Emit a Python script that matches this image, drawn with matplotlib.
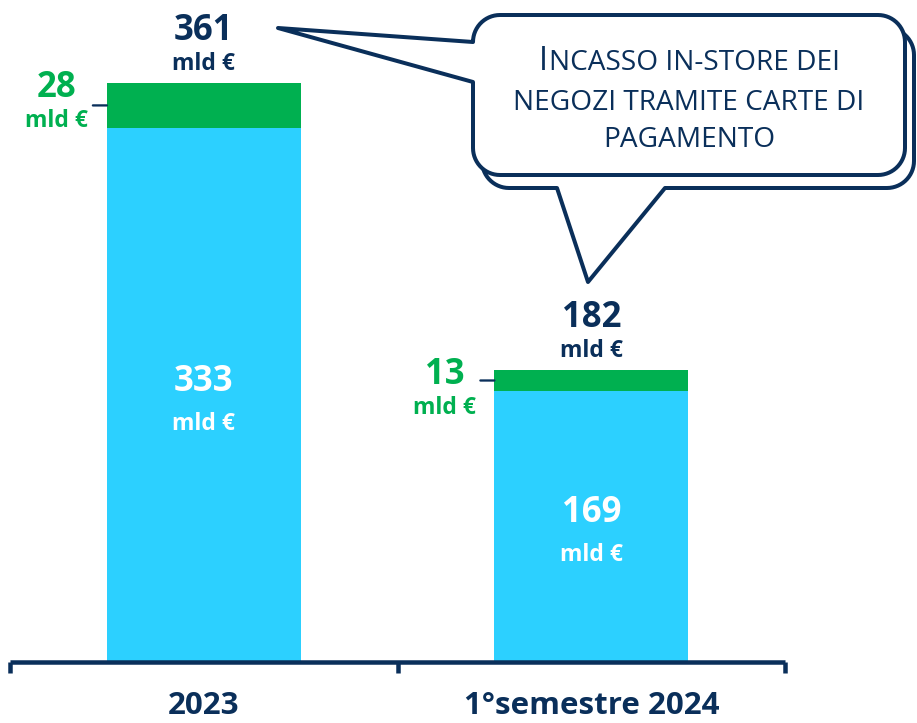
import matplotlib
matplotlib.use("Agg")
import matplotlib.pyplot as plt
from matplotlib.path import Path
from matplotlib.patches import PathPatch
from matplotlib.transforms import Affine2D
import numpy as np

# ---------------- data ----------------
categories = ["2023", "1°semestre 2024"]
card_in_store = [333, 169]      # light-blue segment (mld €)
other_part = [28, 13]           # green segment (mld €)
totals = [361, 182]             # total (mld €)
unit_label = "mld €"
callout_first_letter = "I"
callout_lines = ["NCASSO IN-STORE DEI", "NEGOZI TRAMITE CARTE DI", "PAGAMENTO"]

# ---------------- style ----------------
NAVY = "#0A2F5A"
GREEN = "#00B050"
BLUE = "#2CD0FF"

W, H, DPI = 917, 723, 100
PX = 72.0 / DPI  # points per pixel
plt.rcParams['font.family'] = ['Open Sans', 'DejaVu Sans']

fig = plt.figure(figsize=(W / DPI, H / DPI), dpi=DPI)
# pixel coordinates with origin at top-left
px_trans = Affine2D().scale(1 / DPI, -1 / DPI).translate(0, H / DPI) + fig.dpi_scale_trans

ax = fig.add_axes([10 / W, (H - 662) / H, 775 / W, 662 / H])
ax.patch.set_visible(False)
x = np.arange(len(categories))
bw = 0.5
ax.bar(x, card_in_store, width=bw, color=BLUE, zorder=1)
ax.bar(x, other_part, bottom=card_in_store, width=bw, color=GREEN, zorder=1)
ax.set_xlim(-0.5, len(categories) - 0.5)
ax.set_ylim(0, 662 / 1.604)

for s in ['top', 'right', 'left']:
    ax.spines[s].set_visible(False)
ax.spines['bottom'].set_color(NAVY)
ax.spines['bottom'].set_linewidth(4.5 * PX)
ax.spines['bottom'].set_capstyle('butt')
ax.set_yticks([])
ax.set_xticks(np.arange(len(categories) + 1) - 0.5)
ax.set_xticklabels([])
ax.tick_params(axis='x', which='major', length=11 * PX, width=4.5 * PX,
               color=NAVY, direction='out')
ax.set_xticks(x, minor=True)
ax.set_xticklabels(categories, minor=True, fontsize=22.5, fontweight='bold', color=NAVY)
ax.tick_params(axis='x', which='minor', length=0, pad=29 * PX)

NUM_FS = 25
UNIT_FS = 16.5

for xi, b, o, t in zip(x, card_in_store, other_part, totals):
    # total above the bar
    ax.annotate(str(t), (xi, t), xytext=(0, 43 * PX), textcoords='offset points',
                ha='center', va='baseline', fontsize=NUM_FS, fontweight='bold', color=NAVY)
    ax.annotate(unit_label, (xi, t), xytext=(0, 13 * PX), textcoords='offset points',
                ha='center', va='baseline', fontsize=UNIT_FS, fontweight='bold', color=NAVY)
    # green segment label at the left of the bar
    left = xi - bw / 2
    ax.annotate(str(o), (left, t), xytext=(-50 * PX, -14 * PX), textcoords='offset points',
                ha='center', va='baseline', fontsize=NUM_FS, fontweight='bold', color=GREEN)
    ax.annotate(unit_label, (left, t), xytext=(-50 * PX, -44 * PX), textcoords='offset points',
                ha='center', va='baseline', fontsize=UNIT_FS, fontweight='bold', color=GREEN)
    ax.annotate("", xy=(left, b + o / 2), xytext=(-14 * PX, 0), textcoords='offset points',
                arrowprops=dict(arrowstyle='-', color=NAVY, lw=2.3 * PX,
                                shrinkA=0, shrinkB=0))
    # blue segment label inside
    ax.annotate(str(b), (xi, b / 2), xytext=(0, 4 * PX), textcoords='offset points',
                ha='center', va='baseline', fontsize=NUM_FS, fontweight='bold', color='white')
    ax.annotate(unit_label, (xi, b / 2), xytext=(0, -35 * PX), textcoords='offset points',
                ha='center', va='baseline', fontsize=UNIT_FS, fontweight='bold', color='white')


# ---------------- callout ----------------
def callout_path(x0, y0, x1, y1, r, left_tail=None, bottom_tail=None, n=16):
    pts = []

    def arc(cx, cy, a0, a1):
        for a in np.linspace(np.radians(a0), np.radians(a1), n):
            pts.append((cx + r * np.cos(a), cy + r * np.sin(a)))

    arc(x0 + r, y0 + r, 180, 270)
    arc(x1 - r, y0 + r, 270, 360)
    arc(x1 - r, y1 - r, 0, 90)
    if bottom_tail is not None:
        bl, tip, br = bottom_tail
        pts.append((br, y1))
        pts.append(tip)
        pts.append((bl, y1))
    arc(x0 + r, y1 - r, 90, 180)
    if left_tail is not None:
        lb, tip, lt = left_tail
        pts.append((x0, lb))
        pts.append(tip)
        pts.append((x0, lt))
    pts.append(pts[0])
    codes = [Path.MOVETO] + [Path.LINETO] * (len(pts) - 2) + [Path.CLOSEPOLY]
    return Path(pts, codes)


shadow = callout_path(482, 28, 914, 188, 27,
                      bottom_tail=(557, (588, 282), 665))
main = callout_path(473, 15, 905, 175, 27,
                    left_tail=(82, (278, 28), 42))
for p, z in ((shadow, 5), (main, 6)):
    fig.add_artist(PathPatch(p, transform=px_trans, facecolor='white', edgecolor=NAVY,
                             lw=4 * PX, joinstyle='round', zorder=z))

BIG_FS = 23.5
SMALL_FS = 20.2
cx = 689
baselines = [70, 110, 147]
tI = fig.text(0, 0, callout_first_letter, fontsize=BIG_FS, color=NAVY,
              transform=px_trans, ha='left', va='baseline', zorder=7)
tR = fig.text(0, 0, callout_lines[0], fontsize=SMALL_FS, color=NAVY,
              transform=px_trans, ha='left', va='baseline', zorder=7)
rend = fig.canvas.get_renderer()
wI = tI.get_window_extent(rend).width
wR = tR.get_window_extent(rend).width
start = cx - (wI + wR) / 2
tI.set_position((start, baselines[0]))
tR.set_position((start + wI + 1, baselines[0]))
for line, yb in zip(callout_lines[1:], baselines[1:]):
    fig.text(cx, yb, line, fontsize=SMALL_FS, color=NAVY, transform=px_trans,
             ha='center', va='baseline', zorder=7)

fig.savefig("out.png", dpi=DPI)
